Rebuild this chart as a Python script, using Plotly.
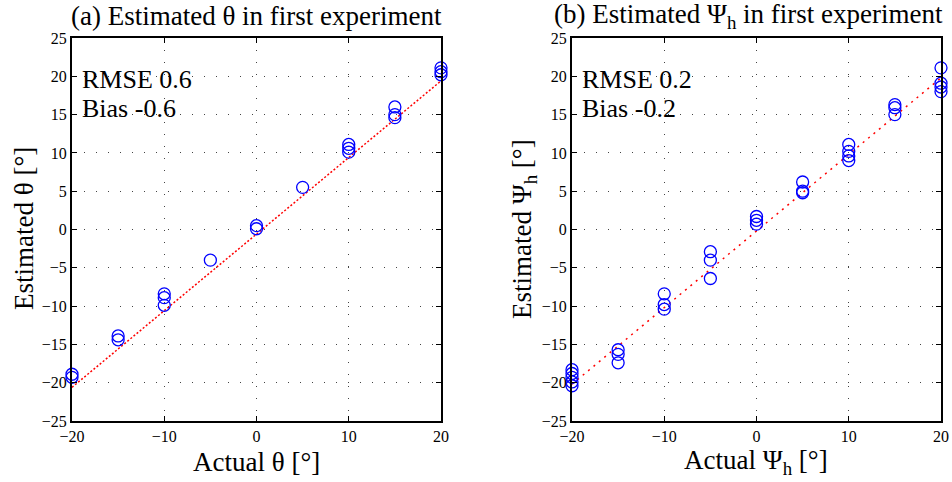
import plotly.graph_objects as go

# ---- data ----
actual_a = [-20, -20, -15, -15, -10, -10, -10, -5, 0, 0, 5, 10, 10, 10, 15, 15, 15, 20, 20, 20]
est_a = [-18.9, -19.3, -13.9, -14.4, -8.4, -8.9, -9.9, -4.0, 0.5, 0.1, 5.5, 11.1, 10.6, 10.1, 16.0, 15.0, 14.6, 21.1, 20.6, 20.2]
bias_a = -0.6
rmse_a = 0.6

actual_b = [-20, -20, -20, -20, -20, -15, -15, -15, -10, -10, -10, -5, -5, -5,
            0, 0, 0, 5, 5, 5, 10, 10, 10, 10, 15, 15, 15, 20, 20, 20, 20]
est_b = [-18.3, -18.8, -19.3, -19.9, -20.4, -15.7, -16.3, -17.4, -8.4, -9.8, -10.4, -2.9, -4.0, -6.4,
         1.7, 1.2, 0.7, 6.2, 5.0, 4.8, 11.1, 10.2, 9.6, 9.0, 16.3, 15.9, 15.0, 21.1, 19.1, 18.6, 18.0]
bias_b = -0.2
rmse_b = 0.2

fit_x = [-20, 20]
tick_vals = [-20, -10, 0, 10, 20]
ytick_vals = [-25, -20, -15, -10, -5, 0, 5, 10, 15, 20, 25]

FONT = "Liberation Serif"

fig = go.Figure()
fig.add_trace(go.Scatter(x=fit_x, y=[v + bias_a for v in fit_x], mode="lines",
                         line=dict(color="red", width=1.5, dash="2px,2px"),
                         xaxis="x", yaxis="y", showlegend=False))
fig.add_trace(go.Scatter(x=actual_a, y=est_a, mode="markers",
                         marker=dict(symbol="circle-open", size=12, color="blue", line=dict(width=1.3)),
                         xaxis="x", yaxis="y", showlegend=False, cliponaxis=False))
fig.add_trace(go.Scatter(x=fit_x, y=[v + bias_b for v in fit_x], mode="lines",
                         line=dict(color="red", width=1.5, dash="2px,5px"),
                         xaxis="x2", yaxis="y2", showlegend=False))
fig.add_trace(go.Scatter(x=actual_b, y=est_b, mode="markers",
                         marker=dict(symbol="circle-open", size=12, color="blue", line=dict(width=1.3)),
                         xaxis="x2", yaxis="y2", showlegend=False, cliponaxis=False))

W, H = 952, 482
def px_x(x):
    return x / W
def px_y(y):
    return 1 - y / H

xdom1 = [px_x(72), px_x(441)]
xdom2 = [px_x(572), px_x(941)]
ydom = [px_y(421), px_y(38)]

axis_common = dict(
    showline=True, linewidth=2, linecolor="black", mirror="ticks",
    ticks="inside", ticklen=5, tickwidth=1, tickcolor="black",
    showgrid=True, gridcolor="#444", gridwidth=1, griddash="1px,11px",
    zeroline=False, automargin=False,
    tickfont=dict(family=FONT, size=16, color="black"),
)

fig.update_layout(
    width=W, height=H,
    margin=dict(l=0, r=0, t=0, b=0),
    paper_bgcolor="white", plot_bgcolor="white",
    font=dict(family=FONT, color="black"),
    xaxis=dict(domain=xdom1, range=[-20, 20], tickvals=tick_vals, anchor="y", **axis_common),
    yaxis=dict(domain=ydom, range=[-25, 25], tickvals=ytick_vals, anchor="x", **axis_common),
    xaxis2=dict(domain=xdom2, range=[-20, 20], tickvals=tick_vals, anchor="y2", **axis_common),
    yaxis2=dict(domain=ydom, range=[-25, 25], tickvals=ytick_vals, anchor="x2", **axis_common),
)

ann = []
def txt(x, y, s, size=22, angle=0, xanchor="center", yanchor="middle"):
    ann.append(dict(x=px_x(x), y=px_y(y), xref="paper", yref="paper", text=s, showarrow=False,
                    font=dict(family=FONT, size=size, color="black"), textangle=angle,
                    xanchor=xanchor, yanchor=yanchor))

txt(256, 16, "(a) Estimated θ in first experiment", size=27)
txt(748, 16, "(b) Estimated Ψ<sub>h</sub> in first experiment", size=27)
txt(256, 462, "Actual θ [°]", size=27)
txt(756, 462, "Actual Ψ<sub>h</sub> [°]", size=27)
txt(24, 229, "Estimated θ [°]", size=27, angle=-90)
txt(524, 229, "Estimated Ψ<sub>h</sub> [°]", size=27, angle=-90)
txt(80, 80, f"RMSE {rmse_a}", size=26, xanchor="left")
txt(80, 109, f"Bias {bias_a}", size=26, xanchor="left")
txt(580, 80, f"RMSE {rmse_b}", size=26, xanchor="left")
txt(580, 109, f"Bias {bias_b}", size=26, xanchor="left")
fig.update_layout(annotations=ann)

# remove the page's default 8px body margin so the figure sits at the window origin
fig.write_html("out.html", config={"displayModeBar": False},
               post_script="document.body.style.margin='0px';document.body.style.overflow='hidden';")
